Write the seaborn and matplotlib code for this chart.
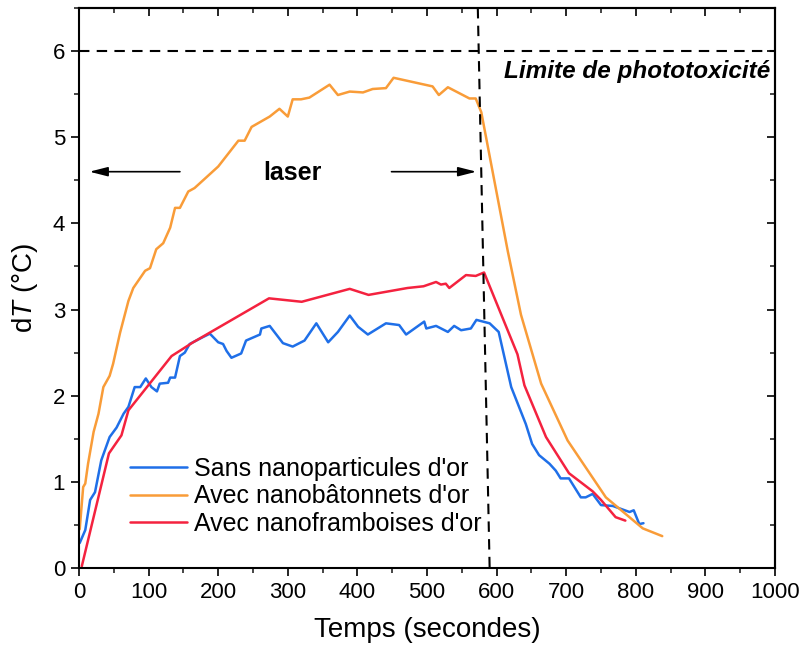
import numpy as np
import pandas as pd
import matplotlib
matplotlib.use('Agg')
import matplotlib.pyplot as plt
import seaborn as sns
from matplotlib.ticker import MultipleLocator

# valeurs : temps (s) et elevation de temperature dT (°C)
t_sans = [1, 9, 16, 23, 32, 44, 54, 64, 71, 80, 88, 96, 104, 112, 116, 128, 131, 138,
          145, 152, 159, 178, 188, 200, 207, 212, 219, 233, 240, 260, 262, 274, 293,
          307, 324, 341, 358, 372, 389, 401, 415, 441, 460, 470, 496, 499, 513, 530,
          539, 549, 563, 571, 590, 603, 621, 642, 651, 661, 676, 685, 692, 704, 721,
          728, 738, 750, 767, 791, 797, 805, 811]
dT_sans = [0.29, 0.44, 0.79, 0.88, 1.25, 1.52, 1.63, 1.79, 1.87, 2.10, 2.10, 2.20, 2.10,
           2.05, 2.14, 2.15, 2.21, 2.21, 2.46, 2.50, 2.60, 2.68, 2.72, 2.62, 2.60, 2.52,
           2.44, 2.49, 2.64, 2.71, 2.78, 2.81, 2.61, 2.57, 2.64, 2.84, 2.62, 2.74, 2.93,
           2.80, 2.71, 2.84, 2.82, 2.71, 2.86, 2.78, 2.81, 2.74, 2.81, 2.76, 2.78, 2.88,
           2.84, 2.74, 2.10, 1.67, 1.44, 1.31, 1.21, 1.13, 1.04, 1.04, 0.82, 0.82, 0.86,
           0.73, 0.72, 0.65, 0.67, 0.51, 0.52]

t_batonnets = [1, 6, 9, 13, 21, 28, 35, 44, 49, 59, 71, 78, 95, 102, 111, 121, 131, 138,
               145, 157, 166, 181, 200, 229, 238, 248, 274, 288, 300, 307, 319, 331, 360,
               372, 389, 408, 422, 441, 452, 508, 517, 530, 561, 570, 578, 616, 635, 664,
               702, 757, 810, 838]
dT_batonnets = [0.45, 0.94, 0.98, 1.21, 1.58, 1.79, 2.10, 2.23, 2.37, 2.73, 3.10, 3.25,
                3.45, 3.48, 3.70, 3.77, 3.95, 4.18, 4.18, 4.37, 4.41, 4.52, 4.66, 4.96,
                4.96, 5.12, 5.24, 5.33, 5.24, 5.44, 5.44, 5.46, 5.61, 5.49, 5.53, 5.52,
                5.56, 5.57, 5.69, 5.59, 5.49, 5.58, 5.45, 5.45, 5.29, 3.68, 2.94, 2.14,
                1.48, 0.82, 0.46, 0.37]

t_framboises = [4, 43, 61, 71, 133, 164, 273, 320, 389, 416, 472, 495, 513, 520, 527, 532,
                556, 570, 582, 630, 640, 671, 704, 738, 750, 771, 785]
dT_framboises = [0.02, 1.33, 1.54, 1.83, 2.46, 2.62, 3.13, 3.09, 3.24, 3.17, 3.25, 3.27,
                 3.32, 3.29, 3.30, 3.25, 3.40, 3.39, 3.43, 2.48, 2.12, 1.52, 1.10, 0.89,
                 0.79, 0.59, 0.55]

noms = ["Sans nanoparticules d'or", "Avec nanobâtonnets d'or", "Avec nanoframboises d'or"]
couleurs = ['#1f6fe8', '#f99c38', '#f4223f']

limite = 6  # limite de phototoxicite (°C)
# ligne de fin du laser (legerement inclinee sur la figure)
fin_laser_t = [573, 590]
fin_laser_y = [6.5, 0]

df = pd.concat([
    pd.DataFrame({'t': t_sans, 'dT': dT_sans, 'serie': noms[0]}),
    pd.DataFrame({'t': t_batonnets, 'dT': dT_batonnets, 'serie': noms[1]}),
    pd.DataFrame({'t': t_framboises, 'dT': dT_framboises, 'serie': noms[2]}),
], ignore_index=True)

sns.set_theme(style='ticks')
plt.rcParams['font.family'] = ['Liberation Sans', 'DejaVu Sans']
plt.rcParams['mathtext.fontset'] = 'custom'
plt.rcParams['mathtext.rm'] = 'Liberation Sans'
plt.rcParams['mathtext.it'] = 'Liberation Sans:italic'
plt.rcParams['text.color'] = 'black'
plt.rcParams['axes.labelcolor'] = 'black'

fig = plt.figure(figsize=(8.04, 6.57), dpi=100)
ax = fig.add_axes([79 / 804, 1 - 568 / 657, 696 / 804, 560 / 657])

sns.lineplot(data=df, x='t', y='dT', hue='serie', hue_order=noms, palette=couleurs,
             sort=False, estimator=None, lw=1.8, ax=ax)

# lignes pointillees
ax.axhline(limite, color='black', ls=(0, (5, 3.5)), lw=1.5)
ax.plot(fin_laser_t, fin_laser_y, color='black', ls=(0, (5, 3.5)), lw=1.5)

# fleches laser
fleche = dict(arrowstyle='-|>,head_length=1.1,head_width=0.28', color='black', lw=1.2,
              mutation_scale=10, shrinkA=0, shrinkB=0)
ax.annotate('', xy=(15, 4.6), xytext=(145, 4.6), arrowprops=fleche)
ax.annotate('', xy=(571, 4.6), xytext=(449, 4.6), arrowprops=fleche)
ax.text(307, 4.58, 'laser', fontsize=18, fontweight='bold', ha='center', va='center')
ax.text(993, 5.76, 'Limite de phototoxicité', fontsize=17.5, fontweight='bold',
        fontstyle='italic', ha='right', va='center')

ax.set_xlim(0, 1000)
ax.set_ylim(0, 6.5)
ax.xaxis.set_major_locator(MultipleLocator(100))
ax.xaxis.set_minor_locator(MultipleLocator(50))
ax.yaxis.set_major_locator(MultipleLocator(1))
ax.yaxis.set_minor_locator(MultipleLocator(0.5))
ax.tick_params(which='major', direction='out', length=6, width=1.2, labelsize=16,
               colors='black', pad=4)
ax.tick_params(which='minor', direction='out', length=3.5, width=1.2)

# graduations interieures en haut et a droite
for sec in [ax.secondary_xaxis('top'), ax.secondary_yaxis('right')]:
    if sec._orientation == 'x':
        sec.xaxis.set_major_locator(MultipleLocator(100))
        sec.xaxis.set_minor_locator(MultipleLocator(50))
    else:
        sec.yaxis.set_major_locator(MultipleLocator(1))
        sec.yaxis.set_minor_locator(MultipleLocator(0.5))
    sec.tick_params(which='major', direction='in', length=6, width=1.2,
                    labeltop=False, labelright=False, colors='black')
    sec.tick_params(which='minor', direction='in', length=3.5, width=1.2)
    for s in sec.spines.values():
        s.set_linewidth(1.5)

for s in ax.spines.values():
    s.set_visible(True)
    s.set_linewidth(1.5)
    s.set_color('black')

ax.set_xlabel('Temps (secondes)', fontsize=20, labelpad=10)
ax.set_ylabel('d$T$ (°C)', fontsize=20)
ax.yaxis.set_label_coords(-0.056, 0.5)

ax.legend(loc='lower left', bbox_to_anchor=(0.073, 0.058), frameon=False, fontsize=18,
          handlelength=2.3, handletextpad=0.25, labelspacing=0.13, borderpad=0,
          borderaxespad=0)

fig.savefig('out.png', dpi=100)
